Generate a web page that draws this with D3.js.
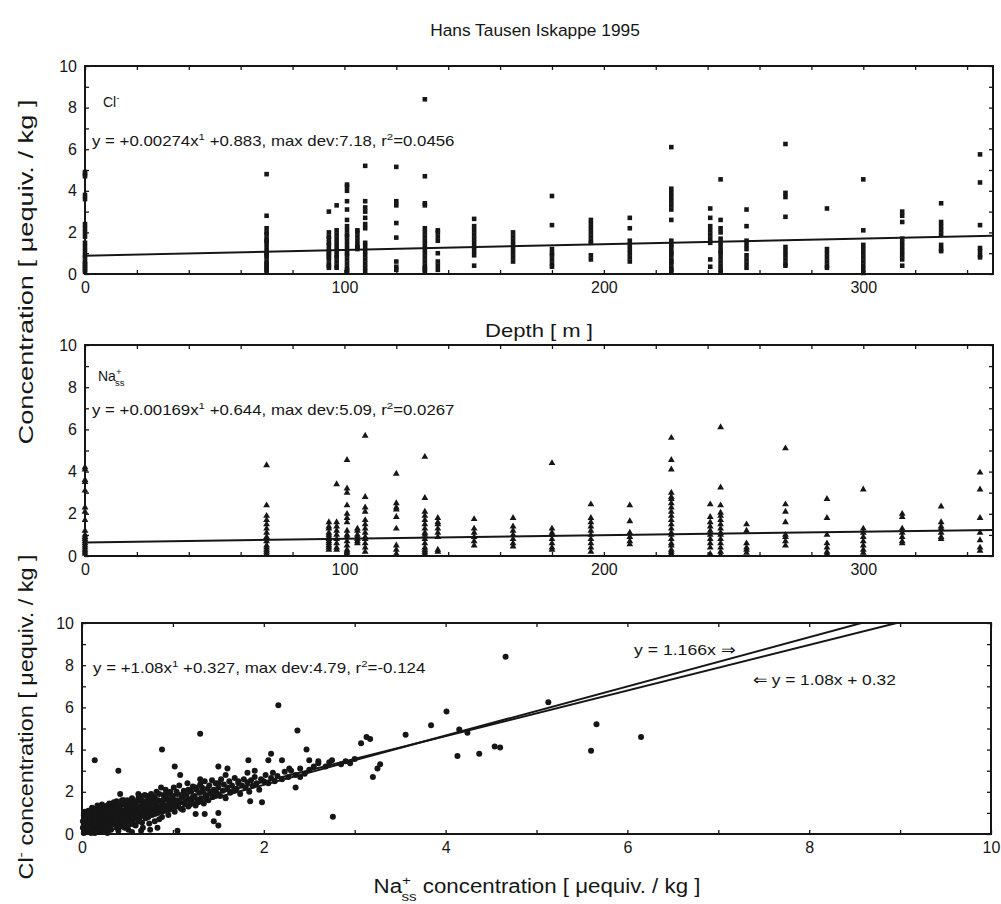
<!DOCTYPE html>
<html>
<head>
<meta charset="utf-8">
<script src="https://cdnjs.cloudflare.com/ajax/libs/d3/7.8.5/d3.min.js"></script>
<style>
  body { margin: 0; background: #fff; }
  svg { font-family: "Liberation Sans", Arial, sans-serif; }
</style>
</head>
<body>
<svg id="chart" width="1001" height="904"></svg>
<script>
// depths of the sample columns [m]
const depths = [0, 70, 94, 97, 101, 105, 108, 120, 131, 136, 150, 165, 180, 195, 210, 226, 241, 245, 255, 270, 286, 300, 315, 330, 345];

// Cl- per depth column [uequiv/kg]
const clByDepth = [
  [4.9, 4.8, 4.7, 3.8, 3.6, 2.4, 2.2, 2.0, 1.8, 1.5, 1.3, 1.1, 0.9, 0.8, 0.6, 0.5, 0.4, 0.3, 0.2, 0.1],
  [4.8, 2.8, 2.2, 2.0, 1.9, 1.7, 1.6, 1.5, 1.3, 1.1, 1.0, 0.9, 0.8, 0.6, 0.5, 0.4, 0.3, 0.2, 0.1],
  [3.0, 2.0, 1.8, 1.7, 1.5, 1.4, 1.2, 1.1, 1.0, 0.9, 0.8, 0.7, 0.5, 0.4, 0.3],
  [3.3, 2.1, 1.9, 1.7, 1.5, 1.3, 1.1, 0.9, 0.8, 0.6, 0.4, 0.3],
  [4.3, 4.2, 4.0, 3.5, 3.1, 2.6, 2.3, 2.1, 1.9, 1.8, 1.6, 1.4, 1.2, 1.0, 0.9, 0.7, 0.5, 0.3, 0.2, 0.1],
  [2.1, 2.0, 1.8, 1.6, 1.4, 1.3, 1.2],
  [5.2, 3.5, 3.2, 3.0, 2.7, 2.4, 2.2, 1.5, 1.3, 1.1, 0.9, 0.7, 0.5, 0.3, 0.1],
  [5.15, 3.5, 3.3, 2.45, 1.75, 0.6, 0.35, 0.2],
  [8.4, 4.7, 3.4, 3.3, 2.2, 2.0, 1.8, 1.6, 1.4, 1.2, 1.0, 0.8, 0.6, 0.4, 0.3, 0.2, 0.1],
  [2.1, 2.0, 1.8, 1.6, 1.0, 0.6, 0.4, 0.2],
  [2.65, 2.3, 2.1, 1.9, 1.7, 1.5, 1.3, 1.1, 0.9, 0.4],
  [2.0, 1.8, 1.6, 1.4, 1.2, 1.0, 0.8, 0.6],
  [3.75, 2.35, 1.2, 1.0, 0.9, 0.7, 0.5, 0.35],
  [2.6, 2.4, 2.2, 2.0, 1.8, 1.6, 1.5, 0.9, 0.7],
  [2.7, 2.2, 1.6, 1.4, 1.2, 1.0, 0.8, 0.6],
  [6.1, 4.1, 3.9, 3.7, 3.5, 3.3, 3.1, 2.6, 1.6, 1.4, 1.3, 1.1, 1.0, 0.9, 0.7, 0.6, 0.5, 0.3, 0.2, 0.1],
  [3.15, 2.7, 2.3, 2.1, 1.9, 1.7, 1.5, 0.7, 0.35],
  [4.55, 2.6, 2.2, 2.0, 1.7, 1.5, 1.3, 1.1, 1.0, 0.8, 0.6, 0.4, 0.2, 0.1],
  [3.1, 2.3, 1.6, 1.4, 1.2, 0.9, 0.7, 0.5, 0.3],
  [6.25, 3.9, 3.7, 2.75, 1.3, 1.1, 0.9, 0.7, 0.5, 0.4],
  [3.15, 1.2, 1.0, 0.8, 0.6, 0.4, 0.3],
  [4.55, 2.1, 1.4, 1.2, 1.0, 0.8, 0.6, 0.4, 0.2, 0.05],
  [3.0, 2.8, 2.5, 1.7, 1.5, 1.3, 1.1, 0.9, 0.7, 0.4],
  [3.4, 2.5, 2.3, 2.1, 1.9, 1.4, 1.2, 1.1],
  [5.75, 4.4, 2.35, 1.25, 1.1, 0.9, 0.8]
];

// Na+ss per depth column
const naByDepth = [
  [4.2, 4.1, 3.6, 3.5, 3.1, 2.3, 2.1, 1.7, 1.2, 1.0, 0.9, 0.8, 0.7, 0.6, 0.5, 0.4, 0.3, 0.2, 0.1],
  [4.3, 2.4, 1.9, 1.7, 1.5, 1.3, 1.1, 0.9, 0.7, 0.5, 0.4, 0.3, 0.2, 0.1],
  [1.6, 1.4, 1.3, 1.1, 1.0, 0.9, 0.8, 0.7, 0.6, 0.5, 0.4, 0.3],
  [3.4, 1.6, 1.4, 1.2, 1.0, 0.8, 0.6, 0.4, 0.3],
  [4.55, 3.2, 3.0, 2.4, 2.0, 1.8, 1.6, 1.2, 1.0, 0.9, 0.7, 0.5, 0.3, 0.2, 0.1],
  [1.3, 1.2, 1.0, 0.9, 0.8, 0.7, 0.6],
  [5.7, 2.8, 2.3, 2.1, 1.7, 1.5, 1.3, 1.1, 0.9, 0.8, 0.6, 0.4, 0.2],
  [3.9, 2.5, 2.3, 2.2, 1.85, 1.3, 0.5, 0.3, 0.1],
  [4.7, 2.75, 2.1, 1.9, 1.7, 1.5, 1.3, 1.1, 1.0, 0.8, 0.6, 0.4, 0.3, 0.2, 0.1],
  [1.8, 1.6, 1.5, 1.3, 1.1, 0.9, 0.3, 0.2],
  [1.75, 1.3, 1.1, 0.9, 0.7, 0.5],
  [1.8, 1.4, 1.2, 1.0, 0.8, 0.6, 0.45],
  [4.4, 1.3, 1.1, 1.0, 0.8, 0.6, 0.4, 0.3],
  [2.45, 1.8, 1.6, 1.4, 1.2, 1.0, 0.8, 0.6, 0.4, 0.2],
  [2.4, 1.65, 1.1, 0.9, 0.7, 0.55],
  [5.6, 4.55, 4.1, 3.0, 2.8, 2.7, 2.5, 2.3, 2.1, 1.9, 1.7, 1.5, 1.3, 1.1, 1.0, 0.8, 0.6, 0.5, 0.3, 0.2, 0.1],
  [2.45, 1.85, 1.6, 1.4, 1.2, 1.0, 0.8, 0.6, 0.4, 0.1],
  [6.1, 3.25, 2.4, 2.05, 1.9, 1.7, 1.5, 1.3, 1.1, 1.0, 0.8, 0.6, 0.4, 0.2, 0.05],
  [1.5, 1.2, 0.6, 0.4, 0.3, 0.15],
  [5.1, 2.45, 2.1, 1.6, 1.0, 0.9, 0.7, 0.5],
  [2.7, 1.8, 1.0, 0.6, 0.4, 0.2, 0.1],
  [3.15, 1.3, 1.1, 0.9, 0.7, 0.5, 0.3, 0.15],
  [2.0, 1.85, 1.3, 1.1, 0.9, 0.7, 0.6],
  [2.35, 1.6, 1.4, 1.3, 1.1, 0.9, 0.8],
  [3.95, 3.15, 1.8, 1.1, 0.75, 0.4, 0.25]
];

// Cl- vs Na+ss pairs [na, cl]
const scatterPairs = [
  [0.02,0.05],[0.03,0.2],[0.05,0.35],[0.04,0.5],[0.06,0.1],[0.08,0.6],[0.07,0.8],[0.1,0.3],[0.1,0.45],[0.12,0.15],
  [0.12,0.7],[0.13,0.95],[0.15,0.25],[0.15,0.55],[0.16,1.2],[0.18,0.4],[0.18,0.85],[0.2,0.1],[0.2,0.65],[0.21,1.05],
  [0.22,1.4],[0.24,0.3],[0.25,0.5],[0.25,0.9],[0.27,1.2],[0.28,0.05],[0.28,0.75],[0.3,1.45],[0.3,0.4],[0.3,1.0],
  [0.01,0.6],[0.02,0.9],[0.03,1.05],[0.05,0.7],[0.09,1.0],[0.11,1.25],[0.14,0.05],[0.17,1.35],[0.19,0.2],[0.23,1.1],
  [0.26,0.15],[0.29,0.6],[0.01,0.3],[0.04,0.15],[0.07,0.4],[0.09,0.2],[0.11,0.55],[0.13,0.35],[0.16,0.75],[0.19,0.55],
  [0.32,0.2],[0.33,0.7],[0.34,1.1],[0.35,1.3],[0.36,0.45],[0.37,0.9],[0.38,1.55],[0.4,0.15],[0.4,0.6],[0.41,1.2],
  [0.42,1.0],[0.43,1.4],[0.44,0.35],[0.45,0.8],[0.46,1.6],[0.47,1.1],[0.48,0.5],[0.5,1.3],[0.5,0.95],[0.51,0.2],
  [0.52,1.5],[0.53,0.7],[0.54,1.2],[0.55,1.7],[0.56,1.0],[0.57,0.45],[0.58,1.35],[0.59,0.85],[0.6,1.55],[0.6,1.1],
  [0.62,0.6],[0.63,1.3],[0.64,1.8],[0.65,0.95],[0.66,1.5],[0.67,0.3],[0.68,1.15],[0.69,1.85],[0.7,0.75],[0.71,1.4],
  [0.72,1.0],[0.73,1.65],[0.74,0.5],[0.75,1.25],[0.76,1.9],[0.77,0.9],[0.78,1.5],[0.79,1.1],[0.8,1.75],[0.8,0.6],
  [0.81,1.35],[0.82,2.0],[0.83,1.0],[0.84,1.6],[0.86,1.2],[0.87,2.2],[0.88,0.8],[0.89,1.45],[0.9,1.85],[0.91,1.1],
  [0.92,2.1],[0.93,1.3],[0.94,1.65],[0.95,0.9],[0.96,1.5],[0.97,2.0],[0.98,1.2],[0.99,1.75],
  [1.0,1.4],[1.01,2.2],[1.02,1.05],[1.03,1.6],[1.05,1.9],[1.06,1.3],[1.07,2.3],[1.08,1.5],[1.1,1.75],[1.11,1.15],
  [1.12,2.05],[1.13,1.45],[1.15,1.85],[1.16,2.4],[1.17,1.3],[1.18,1.65],[1.2,2.0],[1.21,1.5],[1.22,2.25],[1.24,1.8],
  [1.25,1.35],[1.26,2.1],[1.27,1.6],[1.29,1.95],[1.3,2.35],[1.31,1.7],[1.33,2.0],[1.34,1.45],[1.35,2.5],[1.36,1.85],
  [1.38,2.15],[1.39,1.6],[1.4,2.3],[1.42,1.9],[1.43,2.55],[1.44,1.75],[1.45,2.1],[1.47,2.4],[1.48,1.95],[1.5,2.2],
  [1.52,1.8],[1.53,2.6],[1.55,2.05],[1.56,2.35],[1.58,1.7],[1.6,2.2],[1.62,2.5],[1.63,1.95],[1.65,2.3],[1.67,2.05],
  [1.68,2.65],[1.7,2.15],[1.72,2.4],[1.74,1.9],[1.76,2.3],[1.78,2.6],[1.8,2.2],[1.82,2.45],[1.84,2.0],[1.86,2.55],
  [1.88,2.3],[1.9,2.7],[1.92,2.4],[1.95,2.1],[1.97,2.6],[2.0,2.5],[2.02,2.8],[2.05,2.4],[2.08,2.65],[2.1,2.9],
  [2.12,2.5],[2.15,2.75],[2.2,2.6],[2.23,2.95],[2.27,2.7],[2.3,3.0],[2.35,2.8],[2.4,3.1],[2.45,2.85],[2.5,3.05],
  [2.55,3.2],[2.6,3.35],[2.68,3.2],[2.72,3.4],[2.85,3.3],[2.9,3.45],[2.95,3.35],[3.0,3.55],
  // more of the dense band
  [0.02,0.4],[0.03,0.7],[0.04,0.95],[0.05,0.25],[0.06,0.55],[0.07,1.1],[0.08,0.3],[0.09,0.75],[0.1,0.05],[0.11,0.9],
  [0.12,0.4],[0.13,1.15],[0.14,0.65],[0.15,0.85],[0.16,0.1],[0.17,0.45],[0.18,1.05],[0.19,0.7],[0.2,1.25],[0.2,0.35],
  [0.21,0.85],[0.22,0.55],[0.23,0.2],[0.24,1.3],[0.25,0.7],[0.26,1.05],[0.27,0.4],[0.28,1.35],[0.29,0.9],[0.3,0.2],
  [0.31,0.75],[0.32,1.25],[0.33,0.45],[0.34,0.9],[0.35,1.5],[0.36,0.65],[0.37,1.2],[0.38,0.3],[0.39,1.0],[0.4,1.4],
  [0.41,0.8],[0.42,0.5],[0.43,1.15],[0.44,1.6],[0.45,0.6],[0.46,1.0],[0.47,0.3],[0.48,1.35],[0.49,0.75],[0.5,1.6],
  [0.51,1.1],[0.52,0.45],[0.53,1.4],[0.54,0.9],[0.55,1.25],[0.56,0.65],[0.57,1.55],[0.58,1.05],[0.59,0.4],[0.6,1.35],
  [0.61,0.9],[0.62,1.7],[0.63,0.75],[0.64,1.15],[0.65,1.65],[0.66,0.55],[0.67,1.35],[0.68,0.9],[0.69,1.55],[0.7,1.2],
  [0.72,1.8],[0.73,0.8],[0.74,1.45],[0.76,1.05],[0.77,1.7],[0.78,1.3],[0.8,0.95],[0.82,1.55],[0.84,1.25],[0.85,1.9],
  [0.87,1.4],[0.88,1.05],[0.9,1.65],[0.92,1.35],[0.94,1.9],[0.96,1.15],[0.98,1.55],[1.0,1.8],[1.02,1.3],[1.04,2.0],
  [1.06,1.6],[1.09,1.2],[1.11,1.9],[1.14,1.6],[1.17,2.1],[1.19,1.4],[1.22,1.75],[1.25,2.2],[1.28,1.5],[1.32,2.2],
  [1.37,1.7],[1.41,2.0],[1.46,1.8],[1.5,2.4],[0.55,0.1],[0.65,0.15],[0.75,0.2],
  // scattered points
  [0.14,3.5],[0.4,3.0],[0.88,4.0],[1.3,4.75],[2.16,6.1],[2.37,4.9],[2.76,0.82],[3.07,4.3],[3.13,4.6],[3.17,4.5],
  [3.2,2.7],[3.25,3.1],[3.28,3.3],[3.56,4.7],[3.84,5.15],[4.01,5.8],[4.15,4.95],[4.24,4.8],[4.13,3.7],[4.37,3.8],
  [4.54,4.15],[4.6,4.1],[4.66,8.4],[5.13,6.25],[5.66,5.2],[5.6,3.95],[6.15,4.6],
  [2.6,3.45],[2.75,3.5],[2.47,4.0],[2.5,3.5],[2.4,2.7],[2.35,2.2],[2.28,3.1],[2.2,3.5],[2.08,3.8],[2.05,3.5],
  [1.98,1.5],[1.9,3.0],[1.85,1.55],[1.83,3.5],[1.82,2.9],[1.72,2.5],[1.6,3.1],[1.58,2.8],[1.5,3.2],[1.5,1.0],
  [1.5,0.4],[1.45,0.6],[1.3,2.6],[1.35,0.95],[1.25,0.95],[1.02,3.2],[1.08,2.8],[1.05,0.15],[0.62,1.9],[0.42,1.9],
  [0.15,1.1],[0.83,0.3],[0.85,0.7]
];

// fit coefficients [slope, intercept]
const clFit = [0.00274, 0.883];
const naFit = [0.00169, 0.644];
const pairFit = [1.08, 0.32];
const ratioLine = [1.166, 0];

const ink = '#161616';
const svg = d3.select('#chart');

// panel scales
const x1 = d3.scaleLinear().domain([0, 350]).range([85, 993]);
const y1 = d3.scaleLinear().domain([0, 10]).range([274, 66]);
const x2 = d3.scaleLinear().domain([0, 350]).range([85, 993]);
const y2 = d3.scaleLinear().domain([0, 10]).range([556, 345]);
const x3 = d3.scaleLinear().domain([0, 10]).range([82, 991]);
const y3 = d3.scaleLinear().domain([0, 10]).range([834, 623]);

// frame with inward ticks on four sides
function drawAxes(x, y, xTicks, xLabel, yTicks, yLabel) {
  const [xl, xr] = x.range();
  const [yb, yt] = y.range();
  const style = g => {
    g.select('.domain').remove();
    g.selectAll('line').attr('stroke', ink).attr('stroke-width', 1.3);
    g.selectAll('text').attr('fill', ink).attr('font-size', 16)
      .attr('font-family', '"Liberation Sans", Arial, sans-serif');
  };
  svg.append('g').attr('transform', `translate(0,${yb})`)
    .call(d3.axisBottom(x).tickValues(xTicks).tickSize(-4).tickPadding(8)
      .tickFormat(d => xLabel(d) ? d : ''))
    .call(style);
  svg.append('g').attr('transform', `translate(0,${yt})`)
    .call(d3.axisTop(x).tickValues(xTicks).tickSize(-4).tickFormat(''))
    .call(style);
  svg.append('g').attr('transform', `translate(${xl},0)`)
    .call(d3.axisLeft(y).tickValues(yTicks).tickSize(-4).tickPadding(8)
      .tickFormat(d => yLabel(d) ? d : ''))
    .call(style);
  svg.append('g').attr('transform', `translate(${xr},0)`)
    .call(d3.axisRight(y).tickValues(yTicks).tickSize(-4).tickFormat(''))
    .call(style);
  svg.append('rect')
    .attr('x', xl).attr('y', yt).attr('width', xr - xl).attr('height', yb - yt)
    .attr('fill', 'none').attr('stroke', ink).attr('stroke-width', 2);
}

// text made of parts, some raised or lowered
function richText(parent, parts, size) {
  const t = parent.append('text').attr('font-size', size).attr('fill', ink);
  let shift = 0;
  parts.forEach(p => {
    const target = p.sup ? -size * 0.42 : p.sub ? size * 0.38 : 0;
    const ts = t.append('tspan').text(p.t).attr('dy', target - shift);
    shift = target;
    if (p.sup || p.sub) ts.attr('font-size', size * 0.68);
    if (p.dx) ts.attr('dx', p.dx);
  });
  return t;
}

// place text, stretched horizontally to a given width
function label(x, y, parts, size, opts = {}) {
  const g = svg.append('g')
    .attr('transform', `translate(${x},${y})` + (opts.rotate ? ' rotate(-90)' : ''));
  const t = richText(g, parts, size).attr('text-anchor', opts.anchor || 'start');
  if (opts.width) {
    const w = t.node().getBBox().width;
    t.attr('transform', `scale(${opts.width / w},1)`);
  }
  return t;
}

const depthTicks = d3.range(0, 351, 20);
const concTicks = d3.range(0, 11, 1);

// ---- panel 1: Cl- vs depth
drawAxes(x1, y1, depthTicks, d => d % 100 === 0, concTicks, d => d % 2 === 0);
const clPoints = depths.flatMap((d, i) => clByDepth[i].map(v => ({depth: d, v})));
svg.append('g').selectAll('path').data(clPoints).join('path')
  .attr('transform', d => `translate(${x1(d.depth)},${y1(d.v)})`)
  .attr('d', d3.symbol(d3.symbolSquare, 21))
  .attr('fill', ink);
svg.append('path')
  .datum([0, 350])
  .attr('d', d3.line().x(d => x1(d)).y(d => y1(clFit[0] * d + clFit[1])))
  .attr('stroke', ink).attr('stroke-width', 2).attr('fill', 'none');

// ---- panel 2: Na+ss vs depth
drawAxes(x2, y2, depthTicks, d => d % 100 === 0, concTicks, d => d % 2 === 0);
const naPoints = depths.flatMap((d, i) => naByDepth[i].map(v => ({depth: d, v})));
svg.append('g').selectAll('path').data(naPoints).join('path')
  .attr('transform', d => `translate(${x2(d.depth)},${y2(d.v)})`)
  .attr('d', d3.symbol(d3.symbolTriangle, 20))
  .attr('fill', ink);
svg.append('path')
  .datum([0, 350])
  .attr('d', d3.line().x(d => x2(d)).y(d => y2(naFit[0] * d + naFit[1])))
  .attr('stroke', ink).attr('stroke-width', 2).attr('fill', 'none');

// ---- panel 3: Cl- vs Na+ss
drawAxes(x3, y3, concTicks, d => d % 2 === 0, concTicks, d => d % 2 === 0);
svg.append('clipPath').attr('id', 'clip3').append('rect')
  .attr('x', x3(0)).attr('y', y3(10)).attr('width', x3(10) - x3(0)).attr('height', y3(0) - y3(10));
svg.append('g').selectAll('circle').data(scatterPairs).join('circle')
  .attr('cx', d => x3(d[0])).attr('cy', d => y3(d[1])).attr('r', 3)
  .attr('fill', ink);
const lines3 = svg.append('g').attr('clip-path', 'url(#clip3)');
[ratioLine, pairFit].forEach(c => {
  lines3.append('path')
    .datum([0, 10])
    .attr('d', d3.line().x(d => x3(d)).y(d => y3(c[0] * d + c[1])))
    .attr('stroke', ink).attr('stroke-width', 2).attr('fill', 'none');
});

// ---- texts
label(535, 36, [{t: 'Hans Tausen Iskappe 1995'}], 17, {anchor: 'middle', width: 210});

label(103, 107, [{t: 'Cl'}, {t: '-', sup: true}], 14);
label(92, 146, [{t: 'y = +0.00274x'}, {t: '1', sup: true}, {t: ' +0.883, max dev:7.18, r'}, {t: '2', sup: true}, {t: '=0.0456'}], 14, {width: 363});

label(539, 337, [{t: 'Depth [ m ]'}], 18, {anchor: 'middle', width: 108});

label(98, 381, [{t: 'Na'}, {t: '+', sup: true}, {t: 'ss', sub: true, dx: -6.5}], 14);
label(92, 415, [{t: 'y = +0.00169x'}, {t: '1', sup: true}, {t: ' +0.644, max dev:5.09, r'}, {t: '2', sup: true}, {t: '=0.0267'}], 14, {width: 363});

label(93, 673, [{t: 'y = +1.08x'}, {t: '1', sup: true}, {t: ' +0.327, max dev:4.79, r'}, {t: '2', sup: true}, {t: '=-0.124'}], 14, {width: 333});
label(634, 655, [{t: 'y = 1.166x  \u21D2'}], 15, {width: 102});
label(753, 685, [{t: '\u21D0  y = 1.08x + 0.32'}], 15, {width: 144});

label(537, 893, [{t: 'Na'}, {t: '+', sup: true}, {t: 'ss', sub: true, dx: -8.5}, {t: ' concentration [ \u03BCequiv. / kg ]'}], 20, {anchor: 'middle', width: 327});

label(33, 272, [{t: 'Concentration [ \u03BCequiv. / kg ]'}], 20, {anchor: 'middle', rotate: true, width: 345});
label(33, 717, [{t: 'Cl'}, {t: '-', sup: true}, {t: ' concentration [ \u03BCequiv. / kg ]'}], 20, {anchor: 'middle', rotate: true, width: 325});
</script>
</body>
</html>
